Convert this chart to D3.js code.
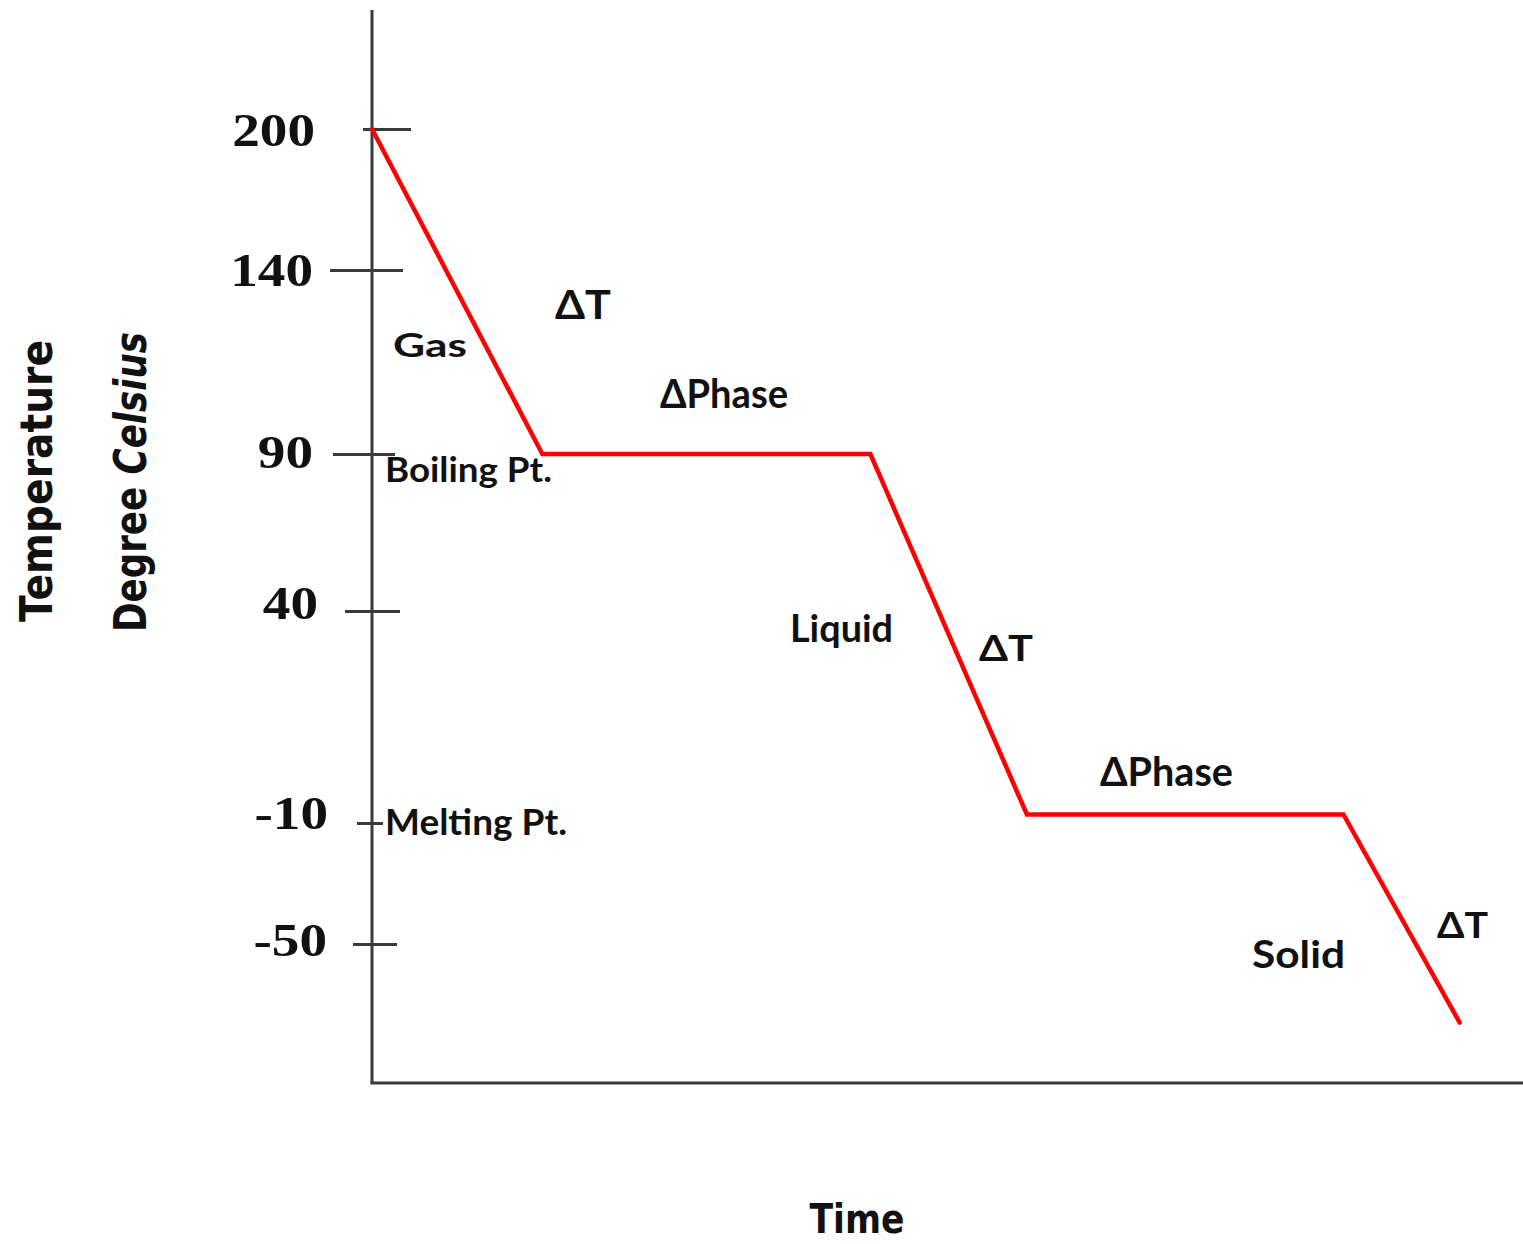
<!DOCTYPE html>
<html>
<head>
<meta charset="utf-8">
<script src="https://cdn.jsdelivr.net/npm/d3@7"></script>
<style>
  html, body { margin: 0; padding: 0; background: #fff; }
  svg { display: block; }
</style>
</head>
<body>
<svg id="chart" width="1523" height="1244"></svg>
<script>
// ---------- data ----------
const times = [0, 14.8, 43.3, 56.9, 84.4, 94.5];          // time (arbitrary units)
const temps = [200, 90, 90, -8, -8, -76];                 // temperature, degree Celsius
const tickValues = [200, 140, 90, 40, -10, -50];
const tickLabels = ["200", "140", "90", "40", "-10", "-50"];
const annotationTexts = ["ΔT", "Gas", "ΔPhase", "Boiling Pt.", "Liquid", "ΔT", "ΔPhase", "Melting Pt.", "Solid", "ΔT"];
const xTitle = "Time";
const yTitle1 = "Temperature";
const yTitle2a = "Degree ";
const yTitle2b = "Celsius";

// ---------- layout / style ----------
const axisX = 372, axisBottom = 1083, axisTop = 10, axisRight = 1523;
const x = d3.scaleLinear().domain([0, 100]).range([axisX, axisRight]);
// the reference's temperature axis is not evenly spaced: piecewise-linear scale
const y = d3.scaleLinear().domain([-50, -10, 40, 90, 140, 200]).range([944, 823, 611, 454, 270, 129]);

const tickStyle = [
  {l: 9,  r: 39, dx: -57, dy: 16},
  {l: 42, r: 31, dx: -59, dy: 15},
  {l: 39, r: 23, dx: -59, dy: 13},
  {l: 27, r: 28, dx: -54, dy: 7},
  {l: 15, r: 11, dx: -44, dy: 5},
  {l: 19, r: 25, dx: -45, dy: 11}
];
const annotationLayout = [
  {x: 555,  y: 319, size: 41, w: 56},
  {x: 393,  y: 357, size: 33, w: 74},
  {x: 660,  y: 408, size: 40, w: 128},
  {x: 385,  y: 482, size: 34, w: 167},
  {x: 790,  y: 642, size: 38, w: 103},
  {x: 979,  y: 661, size: 36, w: 54},
  {x: 1100, y: 786, size: 40, w: 133},
  {x: 385,  y: 835, size: 37, w: 182},
  {x: 1252, y: 968, size: 38, w: 93},
  {x: 1437, y: 938, size: 36, w: 51}
];

const svg = d3.select("#chart");
const axisColor = "#3a3a3a";

// axis lines
svg.append("line").attr("x1", axisX).attr("x2", axisX).attr("y1", axisTop).attr("y2", axisBottom)
  .attr("stroke", axisColor).attr("stroke-width", 3);
svg.append("line").attr("x1", axisX - 1.5).attr("x2", axisRight).attr("y1", axisBottom).attr("y2", axisBottom)
  .attr("stroke", axisColor).attr("stroke-width", 3);

// y axis ticks via d3 axis, then restyled
const yAxis = d3.axisLeft(y).tickValues(tickValues)
  .tickFormat((d, i) => tickLabels[i]).tickSizeOuter(0);
const gY = svg.append("g").attr("transform", `translate(${axisX},0)`).call(yAxis);
gY.select(".domain").remove();
gY.selectAll(".tick line")
  .attr("x1", (d, i) => -tickStyle[i].l)
  .attr("x2", (d, i) => tickStyle[i].r)
  .attr("stroke", axisColor).attr("stroke-width", 3);
gY.selectAll(".tick text")
  .attr("x", 0).attr("y", 0).attr("dy", null)
  .attr("text-anchor", "end")
  .attr("transform", (d, i) => `translate(${tickStyle[i].dx},${tickStyle[i].dy}) scale(1.2,1)`)
  .attr("fill", "#111")
  .style("font-family", "'Liberation Serif', 'Times New Roman', serif")
  .style("font-weight", "bold")
  .style("font-size", "46px");

// the cooling curve
const pts = times.map((t, i) => [t, temps[i]]);
svg.append("path")
  .datum(pts)
  .attr("d", d3.line().x(d => x(d[0])).y(d => y(d[1])))
  .attr("fill", "none")
  .attr("stroke", "#ff0000")
  .attr("stroke-width", 4.5)
  .attr("stroke-linejoin", "miter")
  .attr("stroke-linecap", "round");

// annotations
svg.append("g").selectAll("text")
  .data(annotationTexts)
  .join("text")
  .attr("x", (d, i) => annotationLayout[i].x)
  .attr("y", (d, i) => annotationLayout[i].y)
  .attr("textLength", (d, i) => annotationLayout[i].w)
  .attr("lengthAdjust", "spacingAndGlyphs")
  .style("font-family", "Lato, 'Open Sans', 'DejaVu Sans', sans-serif")
  .style("font-weight", "bold")
  .style("font-size", (d, i) => annotationLayout[i].size + "px")
  .attr("fill", "#111")
  .text(d => d);

// axis titles
const titleFont = "'DejaVu Sans', Verdana, sans-serif";
svg.append("text")
  .attr("transform", "translate(857,1233)")
  .attr("text-anchor", "middle")
  .attr("textLength", 95).attr("lengthAdjust", "spacingAndGlyphs")
  .style("font-family", titleFont).style("font-weight", "bold").style("font-size", "40px")
  .attr("fill", "#111")
  .text(xTitle);

svg.append("text")
  .attr("transform", "translate(52,481) rotate(-90)")
  .attr("text-anchor", "middle")
  .attr("textLength", 282).attr("lengthAdjust", "spacingAndGlyphs")
  .style("font-family", titleFont).style("font-weight", "bold").style("font-size", "44px")
  .attr("fill", "#111")
  .text(yTitle1);

const t2 = svg.append("text")
  .attr("transform", "translate(146,482) rotate(-90)")
  .attr("text-anchor", "middle")
  .attr("textLength", 300).attr("lengthAdjust", "spacingAndGlyphs")
  .style("font-family", titleFont).style("font-weight", "bold").style("font-size", "44px")
  .attr("fill", "#111");
t2.append("tspan").text(yTitle2a);
t2.append("tspan").style("font-style", "italic").text(yTitle2b);
</script>
</body>
</html>
